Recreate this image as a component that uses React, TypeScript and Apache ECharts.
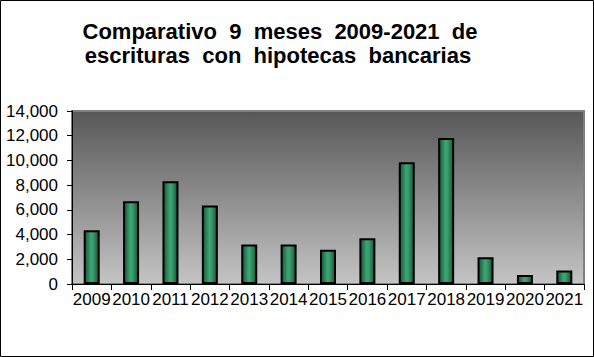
import React, { useEffect, useRef } from "react";
import * as echarts from "echarts";

const years = ["2009", "2010", "2011", "2012", "2013", "2014", "2015", "2016", "2017", "2018", "2019", "2020", "2021"];
const values = [4350, 6700, 8320, 6350, 3190, 3190, 2780, 3700, 9860, 11810, 2160, 730, 1100];
const titleLines = ["Comparativo  9  meses  2009-2021  de", "escrituras  con  hipotecas  bancarias"];

export default function App() {
  const ref = useRef<HTMLDivElement>(null);
  useEffect(() => {
    document.body.style.margin = "0";
    const chart = echarts.init(ref.current!, null, { renderer: "svg" });
    const titleStyle = { fontFamily: "Liberation Sans, Arial", fontSize: 22, fontWeight: "bold", fill: "#000", textAlign: "center", textVerticalAlign: "middle" };
    chart.setOption({
      animation: false,
      backgroundColor: "#ffffff",
      graphic: [
        { type: "text", x: 280, y: 31, style: { ...titleStyle, text: titleLines[0] } },
        { type: "text", x: 278, y: 55, style: { ...titleStyle, text: titleLines[1] } },
        { type: "rect", shape: { x: 0.5, y: 0.5, width: 593, height: 356 }, style: { fill: "none", stroke: "#000", lineWidth: 1 }, z: 100 },
      ],
      grid: {
        left: 72,
        right: 10,
        top: 111,
        bottom: 73,
        show: true,
        borderColor: "#808080",
        borderWidth: 2,
        backgroundColor: new echarts.graphic.LinearGradient(0, 0, 0, 1, [
          { offset: 0, color: "#575757" },
          { offset: 1, color: "#c4c4c4" },
        ]),
      },
      xAxis: {
        type: "category",
        data: years,
        axisLine: { lineStyle: { color: "#000", width: 1 } },
        axisTick: { show: true, length: 6, lineStyle: { color: "#000" } },
        axisLabel: { interval: 0, color: "#000", fontSize: 17, fontFamily: "Liberation Sans, Arial", margin: 7 },
      },
      yAxis: {
        type: "value",
        min: 0,
        max: 14000,
        interval: 2000,
        axisLine: { show: true, lineStyle: { color: "#000", width: 1 } },
        axisTick: { show: true, length: 5, lineStyle: { color: "#000" } },
        splitLine: { show: false },
        axisLabel: {
          color: "#000",
          fontSize: 17,
          fontFamily: "Liberation Sans, Arial",
          margin: 14,
          formatter: (v: number) => v.toLocaleString("en-US"),
        },
      },
      series: [
        {
          type: "bar",
          data: values,
          barWidth: 16,
          itemStyle: {
            color: new echarts.graphic.LinearGradient(0, 0, 1, 0, [
              { offset: 0, color: "#15553a" },
              { offset: 0.45, color: "#3da472" },
              { offset: 0.6, color: "#3a9c6c" },
              { offset: 1, color: "#15553a" },
            ]),
            borderColor: "#000",
            borderWidth: 2,
          },
        },
      ],
    });
    return () => chart.dispose();
  }, []);
  return <div ref={ref} style={{ width: 594, height: 357 }} />;
}
